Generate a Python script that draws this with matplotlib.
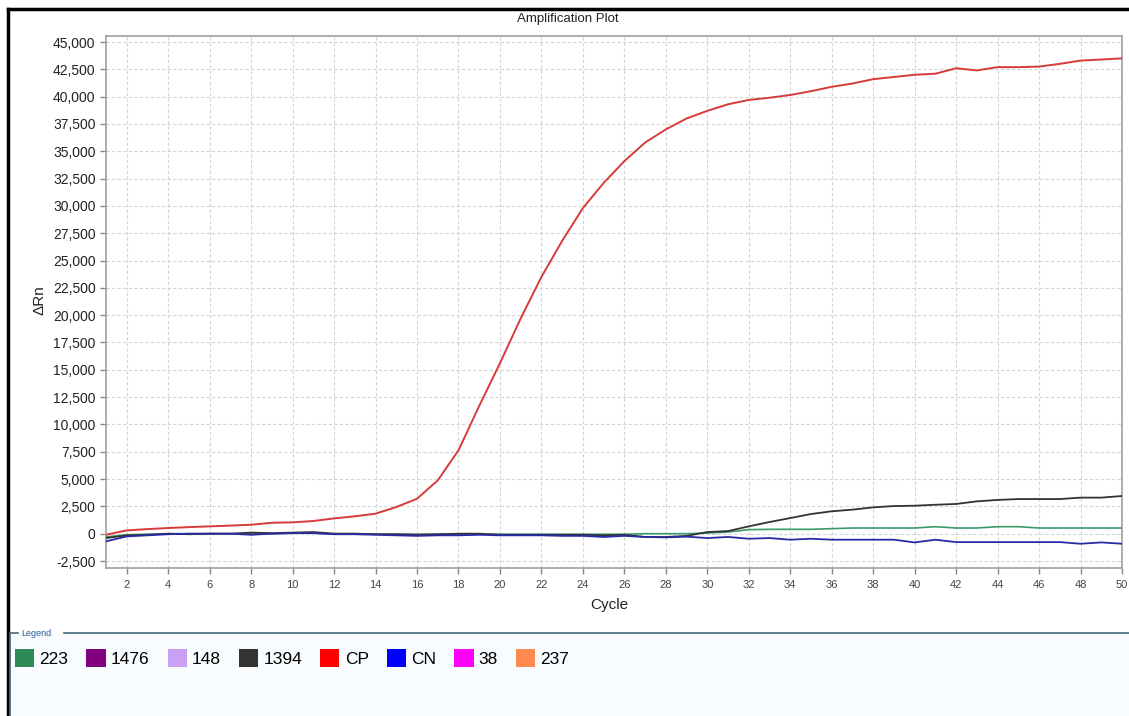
import matplotlib
matplotlib.use("Agg")
import matplotlib.pyplot as plt
from matplotlib.patches import Patch, Rectangle
from matplotlib.lines import Line2D
from matplotlib.ticker import FuncFormatter, MultipleLocator

plt.rcParams['font.family'] = ['Liberation Sans', 'DejaVu Sans']

cycles = list(range(1, 51))

cp = [-100, 300, 420, 520, 600, 670, 740, 820, 1000, 1040,
      1160, 1400, 1590, 1830, 2440, 3200, 4880, 7630, 11700, 15600,
      19700, 23500, 26800, 29800, 32100, 34100, 35800, 37000, 38000, 38700,
      39300, 39700, 39900, 40150, 40500, 40900, 41200, 41600, 41800, 42000,
      42100, 42600, 42400, 42700, 42700, 42750, 43000, 43300, 43400, 43500]

s1394 = [-400, -150, -100, 0, -50, 0, 0, 100, 50, 100,
         150, 0, 0, -50, -50, -100, -50, 0, 0, -100,
         -100, -100, -100, -100, -150, -100, -300, -300, -200, 150,
         240, 670, 1070, 1430, 1800, 2050, 2200, 2410, 2530, 2560,
         2650, 2720, 2960, 3090, 3170, 3170, 3170, 3300, 3300, 3450]

s223 = [-300, -100, -50, 0, 0, 0, 0, 0, 0, 50,
        50, 0, 0, -50, -50, -50, -50, -50, -50, -50,
        -50, -50, -50, -50, -50, -50, 0, 0, 0, 60,
        150, 370, 400, 400, 400, 460, 520, 520, 520, 520,
        640, 520, 520, 640, 640, 520, 520, 520, 520, 520]

cn = [-700, -250, -150, -50, 0, 0, 0, -100, 0, 50,
      50, -50, -50, -100, -150, -200, -150, -150, -100, -150,
      -150, -150, -200, -200, -300, -200, -300, -340, -270, -400,
      -300, -460, -400, -550, -460, -550, -550, -550, -550, -800,
      -550, -770, -770, -770, -770, -770, -770, -920, -800, -920]

legend_labels = ['223', '1476', '148', '1394', 'CP', 'CN', '38', '237']
legend_colors = ['#2e8b57', '#800080', '#c8a0f5', '#333333', '#ff0000', '#0000ff', '#ff00ff', '#ff8a50']

W, H = 1129, 716
fig = plt.figure(figsize=(W / 100, H / 100), dpi=100)
fig.patch.set_facecolor('white')

def fx(px):
    return px / W

def fy(py):
    return 1 - py / H

ax = fig.add_axes([fx(106), fy(568), fx(1122) - fx(106), fy(36) - fy(568)])

ax.plot(cycles, s223, color='#3a9a6a', lw=1.2, zorder=3)
ax.plot(cycles, s1394, color='#333333', lw=1.3, zorder=4)
ax.plot(cycles, cn, color='#2a2aa8', lw=1.3, zorder=4)
ax.plot(cycles, cp, color='#d83a3a', lw=1.4, zorder=5)

ax.set_xlim(1, 50)
ax.set_ylim(-3140, 45550)
ax.xaxis.set_major_locator(MultipleLocator(2))
ax.yaxis.set_major_locator(MultipleLocator(2500))
ax.yaxis.set_major_formatter(FuncFormatter(lambda v, p: f"{int(round(v)):,}"))
ax.grid(True, color='#d4d4d4', linestyle=(0, (3, 2)), linewidth=0.8)
ax.set_axisbelow(True)
for sp in ax.spines.values():
    sp.set_color('#a0a0a0')
    sp.set_linewidth(1.2)
ax.tick_params(axis='y', labelsize=10, colors='#888888', labelcolor='#222222', length=4, width=1)
ax.tick_params(axis='x', labelsize=8, colors='#888888', labelcolor='#444444', length=4, width=1, pad=5)

fig.text(fx(40), fy(300), 'ΔRn', rotation=90, ha='center', va='center', fontsize=11, color='#222222')
fig.text(fx(609), fy(605), 'Cycle', ha='center', va='center', fontsize=11, color='#222222')
fig.text(fx(568), fy(19), 'Amplification Plot', ha='center', va='center', fontsize=9.5, color='#222222')

# outer border (top and left)
fig.add_artist(Line2D([fx(8), fx(1129)], [fy(9), fy(9)], color='black', lw=2.5, transform=fig.transFigure))
fig.add_artist(Line2D([fx(8), fx(8)], [fy(9), fy(716)], color='black', lw=2.5, transform=fig.transFigure))

# legend box
fig.add_artist(Rectangle((fx(10), 0), fx(1129) - fx(10), fy(633), transform=fig.transFigure,
                         facecolor='#f9fcfe', edgecolor='none', zorder=0))
fig.add_artist(Line2D([fx(10), fx(18)], [fy(633), fy(633)], color='#4a6a80', lw=1.2, transform=fig.transFigure))
fig.add_artist(Line2D([fx(64), fx(1129)], [fy(633), fy(633)], color='#4a6a80', lw=1.2, transform=fig.transFigure))
fig.add_artist(Line2D([fx(10), fx(10)], [fy(633), 0], color='#4a6a80', lw=1.2, transform=fig.transFigure))
fig.text(fx(21), fy(633), 'Legend', ha='left', va='center', fontsize=6.5, color='#2a5a9a')

handles = [Patch(facecolor=c, edgecolor='none', label=l) for l, c in zip(legend_labels, legend_colors)]
fig.legend(handles=handles, loc='upper left', bbox_to_anchor=(fx(15), fy(649)), ncol=8,
           frameon=False, fontsize=12.5, handlelength=1.1, handleheight=1.25,
           handletextpad=0.3, columnspacing=1.05, borderaxespad=0, borderpad=0)

fig.savefig('out.png', dpi=100)
